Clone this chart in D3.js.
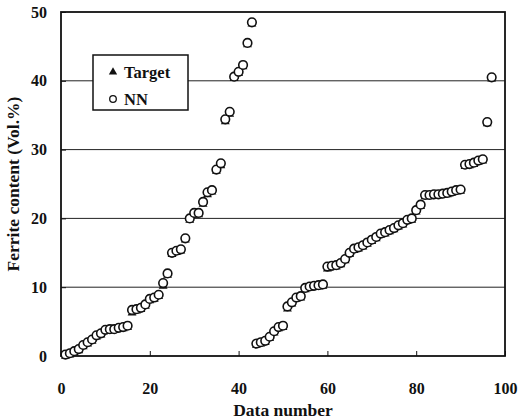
<!doctype html>
<html lang="en">
<head>
<meta charset="UTF-8">
<script src="https://cdnjs.cloudflare.com/ajax/libs/d3/7.0.0/d3.min.js"></script>
<style>
  body { margin: 0; background: #fff; }
  text { font-family: "Liberation Serif", "Times New Roman", serif; font-weight: bold; fill: #111; }
</style>
</head>
<body>
<div id="chart"></div>
<script>
// data number of every sample
const dataNumber = d3.range(1, 98);

// NN predicted ferrite content (Vol.%)
const nnValues = [
    0.2, 0.4, 0.7, 1.0, 1.6, 2.0, 2.4, 3.0, 3.3, 3.8,
    3.9, 3.9, 4.1, 4.2, 4.4, 6.7, 6.8, 7.0, 7.5, 8.3,
    8.5, 8.9, 10.6, 12.0, 15.0, 15.3, 15.5, 17.1, 20.0, 20.8,
    20.8, 22.4, 23.8, 24.1, 27.1, 28.0, 34.4, 35.5, 40.6, 41.3,
    42.3, 45.5, 48.5,
    1.8, 2.0, 2.2, 2.8, 3.6, 4.2, 4.4, 7.2, 7.8, 8.5,
    8.7, 9.9, 10.1, 10.2, 10.3, 10.4, 13.0, 13.1, 13.2, 13.5,
    14.1, 15.0, 15.6, 15.8, 16.1, 16.5, 16.9, 17.3, 17.8, 18.0,
    18.3, 18.6, 19.0, 19.3, 19.8, 20.0, 21.2, 22.0, 23.4, 23.4,
    23.5, 23.5, 23.6, 23.7, 23.9, 24.1, 24.2, 27.8, 27.9, 28.1,
    28.4, 28.6, 34.0, 40.5
];

// measured (target) ferrite content (Vol.%)
const targetValues = [
    0.1, 0.3, 0.6, 0.9, 1.5, 1.9, 2.3, 2.9, 3.2, 3.7,
    3.8, 3.9, 4.0, 4.1, 4.3, 6.4, 6.7, 6.9, 7.4, 8.2,
    8.4, 8.8, 10.3, 11.9, 14.9, 15.2, 15.4, 17.0, 19.9, 20.6,
    20.7, 22.2, 23.6, 24.0, 27.0, 27.8, 34.2, 35.3, 40.5, 41.2,
    42.2, 45.4, 48.4,
    1.7, 1.9, 2.1, 2.7, 3.5, 4.1, 4.3, 7.0, 7.7, 8.4,
    8.6, 9.8, 10.0, 10.1, 10.2, 10.3, 12.8, 13.0, 13.1, 13.4,
    14.0, 14.9, 15.5, 15.7, 16.0, 16.4, 16.8, 17.2, 17.7, 17.9,
    18.2, 18.5, 18.9, 19.2, 19.7, 19.9, 21.1, 21.9, 23.3, 23.3,
    23.4, 23.4, 23.5, 23.6, 23.8, 24.0, 24.1, 27.7, 27.8, 28.0,
    28.3, 28.5, 33.9, 40.4
];

const xTicks = [0, 20, 40, 60, 80, 100];
const yTicks = [0, 10, 20, 30, 40, 50];

const W = 519, H = 420;
const margin = {top: 12, right: 14, bottom: 64, left: 61};
const width = W - margin.left - margin.right,
    height = H - margin.top - margin.bottom;

const svg = d3.select('#chart')
    .append('svg')
    .attr('width', W)
    .attr('height', H);

const g = svg.append('g')
    .attr('transform', `translate(${margin.left},${margin.top})`);

const x = d3.scaleLinear().domain([0, 100]).range([0, width]);
const y = d3.scaleLinear().domain([0, 50]).range([height, 0]);

// horizontal grid lines
g.selectAll('.grid')
    .data(yTicks.slice(1, -1))
    .join('line')
    .attr('x1', 0).attr('x2', width)
    .attr('y1', d => y(d)).attr('y2', d => y(d))
    .attr('stroke', '#222')
    .attr('stroke-width', 1);

// axes, ticks pointing inward
const xAxis = g.append('g')
    .attr('transform', `translate(0,${height})`)
    .call(d3.axisBottom(x).tickValues(xTicks).tickSizeInner(-5).tickSizeOuter(0).tickPadding(27));
const yAxis = g.append('g')
    .call(d3.axisLeft(y).tickValues(yTicks).tickSizeInner(-5).tickSizeOuter(0).tickPadding(14));

[xAxis, yAxis].forEach(a => {
    a.select('.domain').remove();
    a.selectAll('line').attr('stroke', '#111');
    a.selectAll('text')
        .style('font-size', '16px')
        .style('font-family', '"Liberation Serif", serif')
        .style('font-weight', 'bold')
        .attr('fill', '#111');
});

// frame
g.append('rect')
    .attr('width', width).attr('height', height)
    .attr('fill', 'none')
    .attr('stroke', '#111')
    .attr('stroke-width', 1.8);

const tri = d3.symbol().type(d3.symbolTriangle).size(34);

// target triangles under the circles
g.selectAll('.target')
    .data(dataNumber)
    .join('path')
    .attr('d', tri)
    .attr('transform', (d, i) => `translate(${x(d)},${y(targetValues[i]) + 1})`)
    .attr('fill', '#111');

// NN circles
g.selectAll('.nn')
    .data(dataNumber)
    .join('circle')
    .attr('cx', d => x(d))
    .attr('cy', (d, i) => y(nnValues[i]))
    .attr('r', 4.3)
    .attr('fill', '#fff')
    .attr('stroke', '#111')
    .attr('stroke-width', 1.6);

// legend
const lg = g.append('g').attr('transform', `translate(${93 - margin.left},${55 - margin.top})`);
lg.append('rect')
    .attr('width', 95).attr('height', 55)
    .attr('fill', '#fff')
    .attr('stroke', '#111')
    .attr('stroke-width', 1.5);
lg.append('path')
    .attr('d', d3.symbol().type(d3.symbolTriangle).size(30))
    .attr('transform', 'translate(20,17)')
    .attr('fill', '#111');
lg.append('text').attr('x', 31).attr('y', 23).style('font-size', '16.5px').text('Target');
lg.append('circle')
    .attr('cx', 20).attr('cy', 44).attr('r', 3.3)
    .attr('fill', '#fff').attr('stroke', '#111').attr('stroke-width', 1.3);
lg.append('text').attr('x', 31).attr('y', 50).style('font-size', '16.5px').text('NN');

// axis titles
svg.append('text')
    .attr('x', margin.left + width / 2)
    .attr('y', 416)
    .attr('text-anchor', 'middle')
    .style('font-size', '17.5px')
    .text('Data number');

svg.append('text')
    .attr('transform', `translate(19,${margin.top + height / 2}) rotate(-90)`)
    .attr('text-anchor', 'middle')
    .style('font-size', '17.5px')
    .text('Ferrite content (Vol.%)');
</script>
</body>
</html>
